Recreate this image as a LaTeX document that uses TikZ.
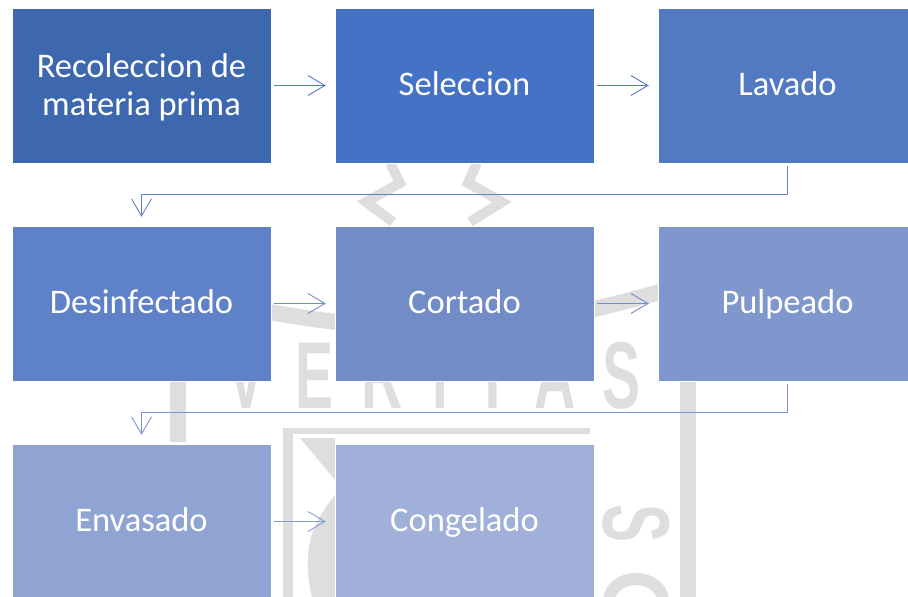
\documentclass[tikz,border=0pt]{standalone}
\usepackage{fontspec}
\setmainfont{Carlito}
\newfontfamily\wmfont{Liberation Sans}
\usetikzlibrary{arrows.meta,calc}
\definecolor{c1}{RGB}{61,104,175}
\definecolor{c2}{RGB}{68,114,196}
\definecolor{c3}{RGB}{84,121,195}
\definecolor{c4}{RGB}{95,129,199}
\definecolor{c5}{RGB}{114,140,200}
\definecolor{c6}{RGB}{128,151,206}
\definecolor{c7}{RGB}{144,164,212}
\definecolor{c8}{RGB}{160,176,217}
\definecolor{a1}{RGB}{84,118,198}
\definecolor{a2}{RGB}{100,130,202}
\definecolor{a3}{RGB}{112,140,206}
\definecolor{a4}{RGB}{122,148,210}
\definecolor{a5}{RGB}{134,156,214}
\definecolor{wmgray}{RGB}{222,222,222}
\begin{document}
\begin{tikzpicture}[x=1pt,y=-1pt,
  stepbox/.style={fill=#1, draw=white, line width=0.5pt, minimum width=259pt, minimum height=155pt, inner sep=0pt, text=white, align=center, font=\fontsize{34.5}{38}\selectfont},
  oneline/.style={text height=27pt, text depth=6.4pt},
  steptext/.style={inner sep=0pt, text=white, align=center, font=\fontsize{34.5}{38}\selectfont},
  conn/.style={draw=#1, line width=0.9pt, shorten <=3pt, shorten >=9pt, -{Straight Barb[length=17pt,width=20pt]}},
  wmtext/.style={text=wmgray, inner sep=0pt, anchor=base, font=\wmfont\bfseries\fontsize{95}{95}\selectfont},
  wmline/.style={draw=wmgray, line width=#1}]
\useasboundingbox (0,0) rectangle (908,597);
\clip (0,0) rectangle (908,597);
% faint watermark
\foreach \l/\x in {V/247,E/315,R/382,I/440,T/493,A/555,S/622}
  \node[wmtext] (wm\l) at (\x,408) {\scalebox{0.6}[1]{\l}};
\fill[wmgray] (170,300) rectangle (186,442);
\fill[wmgray] (680,300) rectangle (696,597);
\fill[wmgray] (283,428) rectangle (590,434);
\fill[wmgray] (283,428) rectangle (293,597);
\fill[wmgray] (300,438) -- (335,438) -- (335,480) -- cycle;
\fill[wmgray] (335,495) .. controls (315,520) and (300,545) .. (312,597) -- (335,597) -- cycle;
\draw[wmline=10pt] (390,163) -- (400,183) -- (366,202) -- (393,222);
\draw[wmline=10pt] (477,163) -- (468,183) -- (502,202) -- (470,222);
\draw[wmline=16pt] (270,312) .. controls (450,345) and (560,320) .. (660,292);
\node[wmtext, anchor=center, rotate=-90] (wmS2) at (636,524) {\scalebox{0.6}[1]{S}};
\draw[wmline=12pt] (636,601) ellipse [x radius=27, y radius=22];
% steps
\node[stepbox=c1] (rec) at (141.5,85.5) {};
\node[steptext] (rectext) at (141.5,87) {Recoleccion de\\materia prima};
\node[stepbox=c2, oneline] (sel) at (464.5,85.5) {Seleccion};
\node[stepbox=c3, oneline] (lav) at (787.5,85.5) {Lavado};
\node[stepbox=c4, oneline] (des) at (141.5,303.5) {Desinfectado};
\node[stepbox=c5, oneline] (cor) at (464.5,303.5) {Cortado};
\node[stepbox=c6, oneline] (pul) at (787.5,303.5) {Pulpeado};
\node[stepbox=c7, oneline] (env) at (141.5,521.5) {Envasado};
\node[stepbox=c8, oneline] (con) at (464.5,521.5) {Congelado};
% connectors
\draw[conn=a1] (rec.east) -- (sel.west);
\draw[conn=a1] (sel.east) -- (lav.west);
\draw[conn=a2] (lav.south) |- ($(lav.south)!0.5!(des.north)$) -| (des.north);
\draw[conn=a3] (des.east) -- (cor.west);
\draw[conn=a3] (cor.east) -- (pul.west);
\draw[conn=a4] (pul.south) |- ($(pul.south)!0.5!(env.north)$) -| (env.north);
\draw[conn=a5] (env.east) -- (con.west);
\end{tikzpicture}
\end{document}
